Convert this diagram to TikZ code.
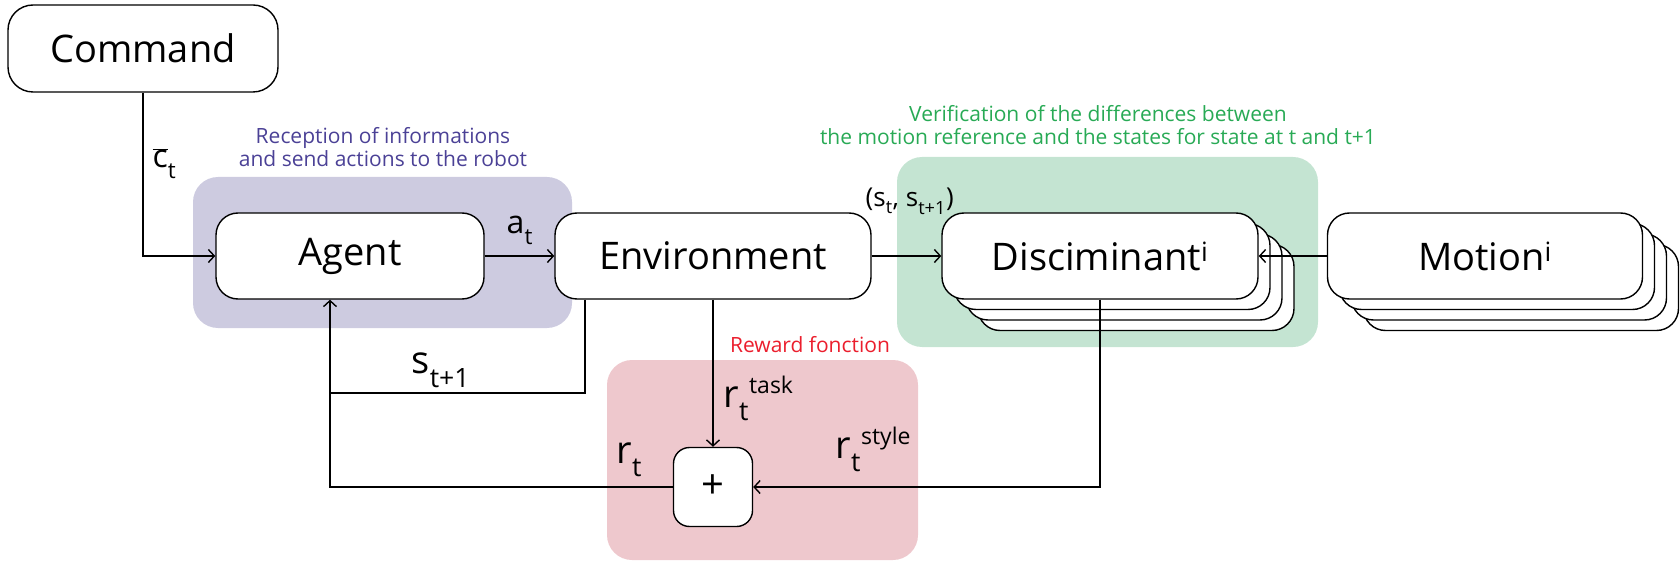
\documentclass[tikz,border=0pt]{standalone}
\usepackage{fontspec}
\setmainfont{Open Sans}
\usetikzlibrary{arrows.meta}
\definecolor{recfill}{RGB}{205,203,224}
\definecolor{rectext}{RGB}{75,65,150}
\definecolor{verfill}{RGB}{196,228,210}
\definecolor{vertext}{RGB}{40,170,85}
\definecolor{rewfill}{RGB}{238,200,205}
\definecolor{rewtext}{RGB}{235,30,45}
\newcommand{\idx}[2]{#1\raisebox{-0.12em}{\textsubscript{#2}}}
\newcommand{\idxup}[3]{#1\raisebox{-0.12em}{\textsubscript{#2}}\raisebox{14pt}{\fontsize{23}{23}\selectfont #3}}

\begin{document}
\begin{tikzpicture}[x=1pt, y=-1pt, >={Straight Barb[length=6pt,width=13pt]}, line width=1.4pt]
  \tikzset{
    block/.style={draw, fill=white, rounded corners=22pt, minimum width=316pt, minimum height=86pt, font=\fontsize{38}{40}\selectfont},
    region/.style={rounded corners=25pt},
    lab/.style={inner sep=0pt, anchor=base west, font=\fontsize{38}{40}\selectfont},
    note/.style={align=center, inner sep=0pt, font=\fontsize{21}{23}\selectfont}
  };
  \useasboundingbox (0,0) rectangle (1680,561);
  % coloured areas
  \fill[recfill, region] (193,177) rectangle (572,328);
  \fill[verfill, region] (897,157) rectangle (1318,347);
  \fill[rewfill, region] (607,360) rectangle (918,560);
  % stacked copies
  \foreach \k in {3,2,1} {
    \node[block] at (1100+12*\k, 256+10.5*\k) {};
    \node[block, minimum width=315pt] at (1485+12*\k, 256+10.5*\k) {};
  }
  \node[block, minimum width=270pt, minimum height=87pt, rounded corners=25pt] (cmd) at (143,48.5) {Command};
  \node[block, minimum width=268pt] (agent) at (350,256) {Agent};
  \node[block] (env) at (713,256) {Environment};
  \node[block] (disc) at (1100,256) {Disciminant\textsuperscript{i}};
  \node[block, minimum width=315pt] (motion) at (1485,256) {Motion\textsuperscript{i}};
  \node[block, minimum width=79pt, minimum height=79pt, rounded corners=16pt, font=\fontsize{40}{40}\selectfont] (plus) at (713,487) {+};
  % area titles
  \node[note, text=rectext] (rectxt) at (383,147) {Reception of informations\\and send actions to the robot};
  \node[note, text=vertext] (vertxt) at (1098,125) {Verification of the differences between\\the motion reference and the states for state at t and t+1};
  \node[note, text=rewtext] (rewtxt) at (810,345) {Reward fonction};
  % signals
  \node[lab, font=\fontsize{32}{34}\selectfont] (cbar) at (152,168) {$\overline{\mbox{c}}$\idx{}{t}};
  \node[lab, font=\fontsize{32}{34}\selectfont] (at) at (506,234) {\idx{a}{t}};
  \node[lab, font=\fontsize{26}{28}\selectfont] (pair) at (865,207) {(\idx{s}{t}, \idx{s}{t+1})};
  \node[lab] (snext) at (411,373) {\idx{s}{t+1}};
  \node[lab] (rt) at (616,463) {\idx{r}{t}};
  \node[lab] (rtask) at (723,407) {\idxup{r}{t}{task}};
  \node[lab] (rstyle) at (835,458) {\idxup{r}{t}{style}};
  \coordinate (fb) at (330,393);
  \draw[->] (cmd) |- (agent);
  \draw[->] (agent) -- (env);
  \draw[->] (env) -- (disc);
  \draw[->] (motion) -- (disc);
  \draw[->] (env) -- (plus);
  \draw[->] (disc) |- (plus);
  \draw[->] (plus) -| (agent.south -| fb);
  \draw ([xshift=-128pt]env.south) |- (fb);
\end{tikzpicture}
\end{document}
